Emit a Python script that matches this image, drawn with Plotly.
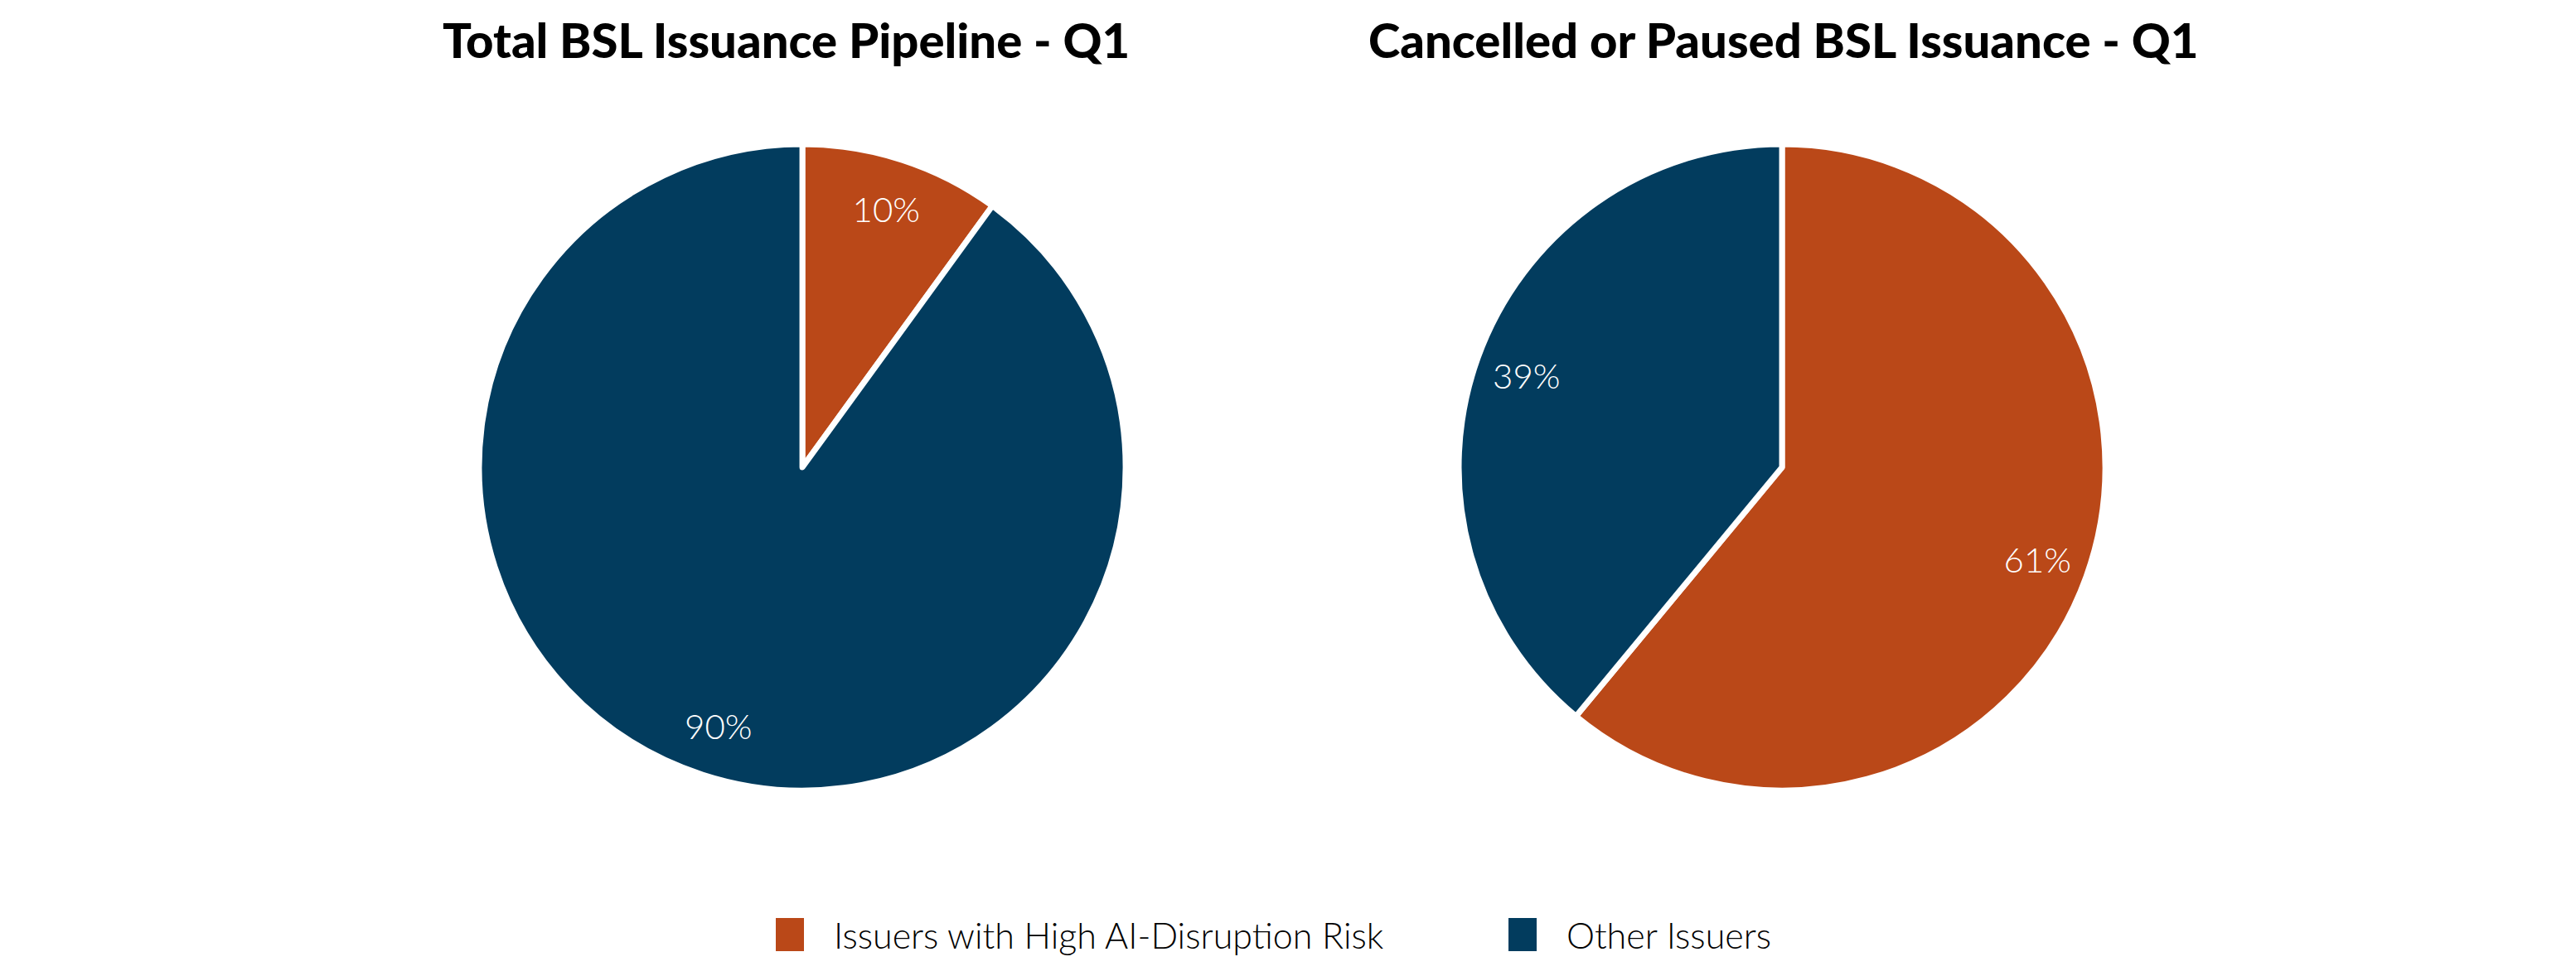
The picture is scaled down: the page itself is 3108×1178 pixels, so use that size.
import plotly.graph_objects as go

# data
categories = ['Issuers with High AI-Disruption Risk', 'Other Issuers']
colors = ['#BA4818', '#023C5E']
pipeline_pct = [10, 90]
cancelled_pct = [61, 39]
titles = ['Total BSL Issuance Pipeline - Q1', 'Cancelled or Paused BSL Issuance - Q1']

W, H = 3108, 1178

pie_domains = [dict(x=[0.1834, 0.4344], y=[0.1969, 0.8591]),
               dict(x=[0.5637, 0.8147], y=[0.1969, 0.8591])]

fig = go.Figure()

for vals, dom in zip([pipeline_pct, cancelled_pct], pie_domains):
    fig.add_trace(go.Pie(
        labels=categories,
        values=vals,
        domain=dom,
        sort=False,
        direction='clockwise',
        rotation=0,
        marker=dict(colors=colors, line=dict(color='white', width=7)),
        textinfo='none',
        hoverinfo='label+percent',
        showlegend=False,
    ))
    # clear ring on top of the pie, only used to put the % labels out near the rim
    fig.add_trace(go.Pie(
        labels=categories,
        values=vals,
        domain=dom,
        hole=0.68,
        sort=False,
        direction='clockwise',
        rotation=0,
        marker=dict(colors=['rgba(0,0,0,0)'] * len(vals), line=dict(width=0)),
        texttemplate='%{value}%',
        textposition='inside',
        insidetextorientation='horizontal',
        textfont=dict(family='Lato', size=42, color='white', weight=300),
        hoverinfo='skip',
        showlegend=False,
    ))

# titles
for t, xc in zip(titles, [940 / W, 2144 / W]):
    fig.add_annotation(text=t, x=xc, y=1 - 40 / H, xref='paper', yref='paper',
                       xanchor='center', yanchor='middle', showarrow=False,
                       font=dict(family='Lato', size=58, color='black', weight=900))

# legend built by hand so the boxes can be large
leg_x = [928, 1812]
for name, col, lx in zip(categories, colors, leg_x):
    fig.add_shape(type='rect', xref='paper', yref='paper',
                  x0=lx / W, x1=(lx + 34) / W,
                  y0=1 - 1140 / H, y1=1 - 1100 / H,
                  fillcolor=col, line=dict(width=0))
    fig.add_annotation(text=name, x=(lx + 68) / W, y=1 - 1120 / H,
                       xref='paper', yref='paper', xanchor='left', yanchor='middle',
                       showarrow=False,
                       font=dict(family='Lato', size=43, color='black', weight=300))

fig.update_layout(width=W, height=H,
                  margin=dict(l=0, r=0, t=0, b=0),
                  paper_bgcolor='white', plot_bgcolor='white')

fig.write_html('out.html')
